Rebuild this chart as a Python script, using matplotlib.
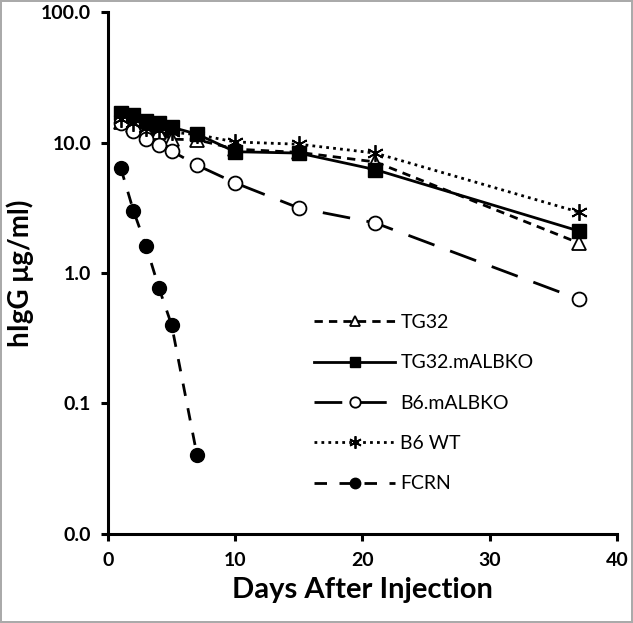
import matplotlib
matplotlib.use('Agg')
import matplotlib.pyplot as plt

plt.rcParams['font.family'] = ['Lato', 'DejaVu Sans']

days = [1, 2, 3, 4, 5, 7, 10, 15, 21, 37]
tg32 = [14.4, 13.6, 12.8, 12.0, 10.6, 10.5, 8.9, 8.4, 7.1, 1.7]
tg32_malbko = [16.8, 16.2, 14.6, 14.1, 13.1, 11.6, 8.5, 8.3, 6.2, 2.1]
b6_malbko = [14.1, 12.2, 10.6, 9.6, 8.6, 6.7, 4.9, 3.15, 2.42, 0.63]
b6_wt = [15.1, 14.0, 13.0, 12.5, 12.0, 11.5, 10.1, 9.7, 8.3, 2.93]
fcrn_days = [1, 2, 3, 4, 5, 7]
fcrn = [6.4, 3.0, 1.6, 0.77, 0.4, 0.04]

yticks = [0.01, 0.1, 1, 10, 100]
ytick_labels = ['0.0', '0.1', '1.0', '10.0', '100.0']
xticks = [0, 10, 20, 30, 40]

fig = plt.figure(figsize=(6.33, 6.23), dpi=100)
fig.patch.set_edgecolor('#aaaaaa')
fig.patch.set_linewidth(1.5)
ax = fig.add_axes([0.1706, 0.1429, 0.8041, 0.8378])

lw = 2.0
ax.plot(days, tg32, color='black', lw=lw, ls=(0, (3, 2.2)), marker='^',
        ms=10, mfc='white', mec='black', mew=1.3, label='TG32')
ax.plot(days, tg32_malbko, color='black', lw=lw, ls='-', marker='s',
        ms=10, mfc='black', mec='black', label='TG32.mALBKO')
ax.plot(days, b6_malbko, color='black', lw=lw, ls=(0, (10, 6)), marker='o',
        ms=10, mfc='white', mec='black', mew=1.3, label='B6.mALBKO')
ax.plot(days, b6_wt, color='black', lw=lw, ls=(0, (1, 1.5)), marker=(6, 2, 0),
        ms=12, mec='black', mew=1.3, label='B6 WT')
ax.plot(fcrn_days, fcrn, color='black', lw=lw, ls=(0, (4.5, 4.5)), marker='o',
        ms=10, mfc='black', mec='black', label='FCRN')

ax.set_yscale('log')
ax.set_ylim(0.01, 100)
ax.set_xlim(0, 40)
ax.set_yticks(yticks)
ax.set_yticklabels(ytick_labels)
ax.minorticks_off()
ax.set_xticks(xticks)

for s in ['top', 'right']:
    ax.spines[s].set_visible(False)
for s in ['left', 'bottom']:
    ax.spines[s].set_linewidth(2.2)
ax.tick_params(width=2.2, length=5, labelsize=14)
for lab in ax.get_xticklabels() + ax.get_yticklabels():
    lab.set_fontweight('bold')
ax.tick_params(axis='y', pad=7)
ax.tick_params(axis='x', pad=8)

ax.set_xlabel('Days After Injection', fontsize=21, fontweight='bold', labelpad=6)
ax.set_ylabel('hIgG μg/ml)', fontsize=20, fontweight='bold', labelpad=5)

leg = ax.legend(loc='upper left', bbox_to_anchor=(0.37, 0.455), frameon=False,
                fontsize=14, handlelength=4.2, labelspacing=1.2, handletextpad=0.25,
                markerscale=0.75)

fig.savefig('out.png', dpi=100)
